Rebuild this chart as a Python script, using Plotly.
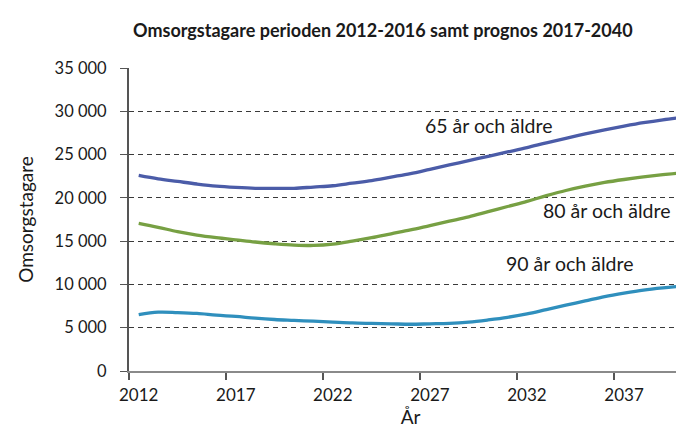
import plotly.graph_objects as go

years = list(range(2012, 2041))
aldre65 = [22600, 22200, 21900, 21600, 21350, 21200, 21100, 21100, 21100, 21250,
           21400, 21700, 22000, 22400, 22800, 23300, 23800, 24300, 24800, 25300,
           25800, 26350, 26880, 27380, 27850, 28280, 28680, 29020, 29300]
aldre80 = [17050, 16600, 16100, 15700, 15400, 15150, 14900, 14700, 14550, 14500,
           14650, 15000, 15400, 15850, 16300, 16800, 17300, 17800, 18400, 19000,
           19600, 20250, 20850, 21350, 21780, 22120, 22420, 22680, 22900]
aldre90 = [6500, 6800, 6750, 6650, 6450, 6300, 6100, 5950, 5850, 5750,
           5650, 5550, 5500, 5450, 5400, 5450, 5500, 5650, 5900, 6200,
           6600, 7100, 7600, 8100, 8600, 9000, 9350, 9600, 9800]

series_names = ["65 år och äldre", "80 år och äldre", "90 år och äldre"]
series_colors = ["#4b5ca8", "#77a043", "#2f8fbd"]

x_tick_vals = [2012, 2017, 2022, 2027, 2032, 2037]
x_tick_text = ["2012", "2017", "2022", "2027", "2032", "2037"]
y_tick_vals = [0, 5000, 10000, 15000, 20000, 25000, 30000, 35000]
y_tick_text = ["0", "5 000", "10 000", "15 000", "20 000", "25 000", "30 000", "35 000"]

FONT = "Lato"
TXT = "#1a1a1a"

fig = go.Figure()
for name, vals, col in zip(series_names, [aldre65, aldre80, aldre90], series_colors):
    fig.add_trace(go.Scatter(x=years, y=vals, mode="lines", name=name,
                             line=dict(color=col, width=3.3, shape="spline", smoothing=1.0)))

# label annotations
label_pos = [(2030.0, 28400), (2036.1, 18500), (2034.2, 12400)]
for name, (lx, ly) in zip(series_names, label_pos):
    fig.add_annotation(x=lx, y=ly, text=name, showarrow=False,
                       font=dict(family=FONT, size=19.5, color=TXT))

fig.update_layout(
    width=684, height=430,
    margin=dict(l=121, r=0, t=60, b=67),
    paper_bgcolor="white", plot_bgcolor="white",
    showlegend=False,
    font=dict(family=FONT, color=TXT),
    title=dict(text="<b>Omsorgstagare perioden 2012-2016 samt prognos 2017-2040</b>",
               x=0.548, xanchor="center", y=0.947, yanchor="middle",
               font=dict(family=FONT, size=18, color=TXT)),
)
fig.update_xaxes(
    range=[2011.5, 2040.5], tickvals=x_tick_vals, ticktext=x_tick_text,
    ticks="", showgrid=False, zeroline=False,
    showline=True, linecolor="#8a8a8a", linewidth=2,
    ticklabelstandoff=8,
    tickfont=dict(family=FONT, size=17, color=TXT),
    minor=dict(tickvals=[2011.5, 2016.5, 2021.5, 2026.5, 2031.5, 2036.5],
               ticks="outside", ticklen=7, tickcolor="#555555", tickwidth=1.5, showgrid=False),
    title=dict(text="År", font=dict(family=FONT, size=19, color=TXT), standoff=6),
)
fig.update_yaxes(
    range=[0, 35000], tickvals=y_tick_vals, ticktext=y_tick_text,
    ticks="outside", ticklen=7, tickcolor="#555555",
    ticklabelstandoff=10,
    showgrid=True, gridcolor="#3a3a3a", griddash="5px,4px", gridwidth=1,
    zeroline=False, showline=True, linecolor="#555555", linewidth=2,
    tickfont=dict(family=FONT, size=16.5, color=TXT),
    title=dict(text="Omsorgstagare", font=dict(family=FONT, size=19, color=TXT), standoff=16),
)

fig.write_html("out.html")
